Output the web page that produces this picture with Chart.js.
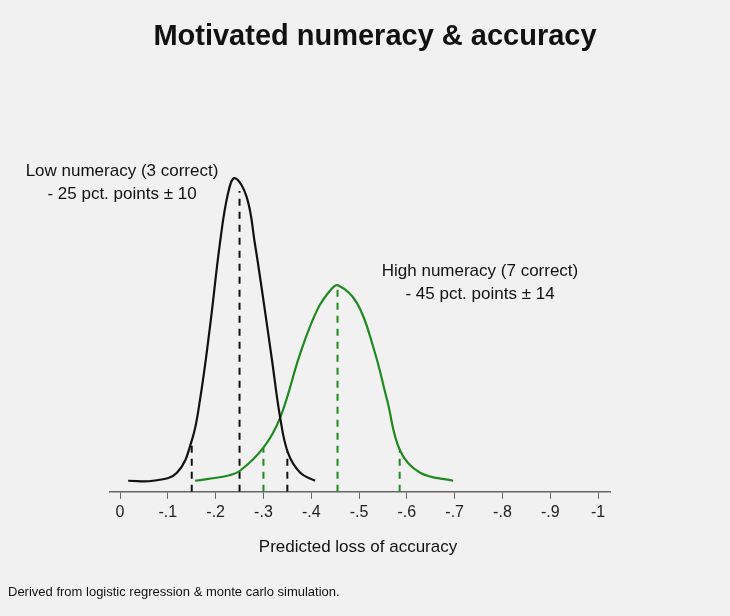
<!DOCTYPE html>
<html><head><script src="https://cdn.jsdelivr.net/npm/chart.js@4"></script>
<style>html,body{margin:0;background:#f1f1f1}#w{width:730px;height:616px;position:relative}</style></head>
<body><div id="w"><canvas id="c"></canvas></div>
<script>
const tickValues=[0,0.1,0.2,0.3,0.4,0.5,0.6,0.7,0.8,0.9,1];
const tickLabels=["0","-.1","-.2","-.3","-.4","-.5","-.6","-.7","-.8","-.9","-1"];
const lowX=[0.017,0.069,0.119,0.15,0.167,0.188,0.209,0.226,0.24,0.265,0.282,0.3,0.318,0.335,0.352,0.377,0.408];
const lowY=[11,11,19,51,91,164,248,298,313,294,248,191,131,74,38,19,11];
const highX=[0.157,0.224,0.251,0.3,0.335,0.377,0.412,0.44,0.456,0.496,0.53,0.559,0.586,0.628,0.697];
const highY=[11,16,21,44,74,138,181,201,206,188,144,91,41,19,11];
const lowDashX=[0.15,0.25,0.35], lowDashTop=[51,300,40];
const highDashX=[0.30,0.455,0.585], highDashTop=[44,203,41];
const GREEN='#1e8a1e';
function pts(xs,ys){return xs.map((x,i)=>({x,y:ys[i]}));}
const ds=[
 {data:pts(lowX,lowY),borderColor:'#111',borderWidth:2.2,tension:0.4,pointRadius:0,fill:false},
 {data:pts(highX,highY),borderColor:GREEN,borderWidth:2.2,tension:0.4,pointRadius:0,fill:false}];
lowDashX.forEach((x,i)=>ds.push({data:[{x,y:0},{x,y:lowDashTop[i]}],borderColor:'#111',borderWidth:2,borderDash:[7,6],pointRadius:0}));
highDashX.forEach((x,i)=>ds.push({data:[{x,y:0},{x,y:highDashTop[i]}],borderColor:GREEN,borderWidth:2,borderDash:[7,6],pointRadius:0}));
const texts={id:'texts',afterDraw(ch){const c=ch.ctx;c.save();c.fillStyle='#111';c.textBaseline='middle';
 c.font='bold 29px "Liberation Sans", Arial';c.textAlign='center';c.fillText('Motivated numeracy & accuracy',375,37);
 c.font='17px "Liberation Sans", Arial';
 c.fillText('Low numeracy (3 correct)',122,171);c.fillText('- 25 pct. points \u00b1 10',122,194);
 c.fillText('High numeracy (7 correct)',480,271);c.fillText('- 45 pct. points \u00b1 14',480,294);
 c.fillText('Predicted loss of accuracy',358,547);
 c.font='13px "Liberation Sans", Arial';c.textAlign='left';c.fillText('Derived from logistic regression & monte carlo simulation.',8,592);
 c.restore();}};
new Chart(document.getElementById('c'),{type:'line',data:{datasets:ds},plugins:[texts],
 options:{responsive:true,maintainAspectRatio:false,animation:false,
  layout:{padding:{left:110,right:120,top:151,bottom:90}},
  plugins:{legend:{display:false},tooltip:{enabled:false}},
  scales:{
   x:{type:'linear',min:-0.021,max:1.025,afterBuildTicks:s=>{s.ticks=tickValues.map(v=>({value:v}));},
    ticks:{color:'#222',font:{size:16,family:'"Liberation Sans", Arial'},padding:4,maxRotation:0,autoSkip:false,callback:(v)=>{const i=tickValues.findIndex(t=>Math.abs(t-v)<1e-6);return i>=0?tickLabels[i]:'';}},
    grid:{display:true,drawOnChartArea:false,tickLength:7,color:'#666'},border:{color:'#666',width:1.5}},
   y:{display:false,min:0,max:340}}}});
</script></body></html>
